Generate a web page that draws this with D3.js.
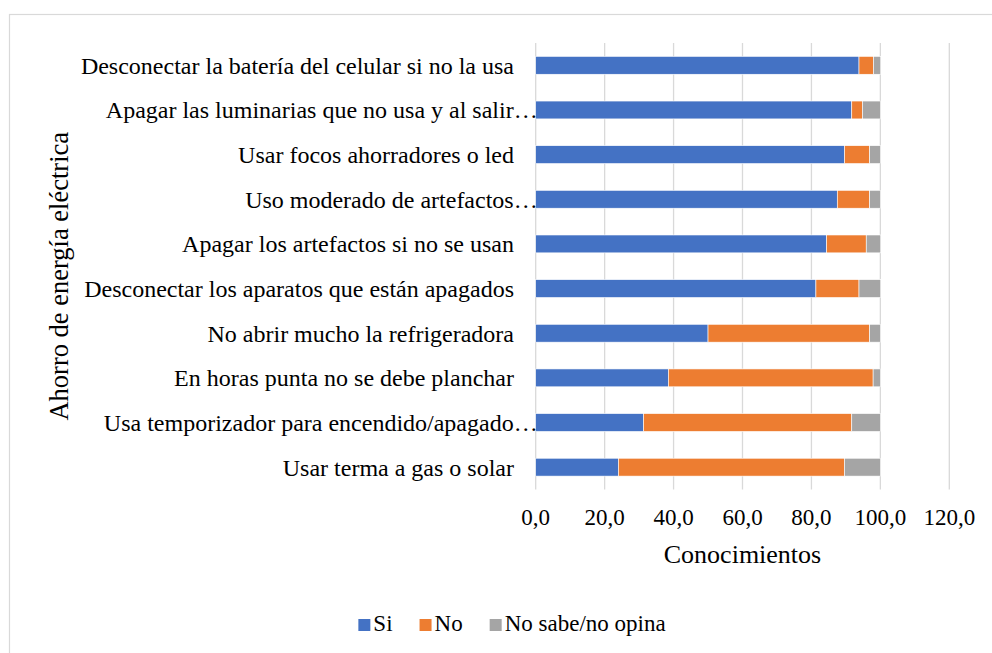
<!DOCTYPE html>
<html>
<head>
<meta charset="utf-8">
<script src="https://cdn.jsdelivr.net/npm/d3@7"></script>
<style>
  body { margin: 0; background: #fff; }
  text { font-family: "Liberation Serif", "Times New Roman", serif; fill: #000; }
</style>
</head>
<body>
<svg id="chart"></svg>
<script>
var width = 992, height = 653;

// categories, top to bottom
var categories = [
  "Desconectar la batería del celular si no la usa",
  "Apagar las luminarias que no usa y al salir…",
  "Usar focos ahorradores o led",
  "Uso moderado de artefactos…",
  "Apagar los artefactos si no se usan",
  "Desconectar los aparatos que están apagados",
  "No abrir mucho la refrigeradora",
  "En horas punta no se debe planchar",
  "Usa temporizador para encendido/apagado…",
  "Usar terma a gas o solar"
];
var siValues = [93.8, 91.7, 89.6, 87.5, 84.4, 81.3, 50.0, 38.5, 31.3, 24.0];
var noValues = [4.2, 3.1, 7.3, 9.4, 11.5, 12.5, 46.9, 59.4, 60.4, 65.6];
var nsValues = [2.1, 5.2, 3.1, 3.1, 4.2, 6.3, 3.1, 2.1, 8.3, 10.4];
var seriesNames = ["Si", "No", "No sabe/no opina"];
var colors = ["#4472C4", "#ED7D31", "#A5A5A5"];
var xTicks = [0, 20, 40, 60, 80, 100, 120];

var svg = d3.select("#chart").attr("width", width).attr("height", height);

// chart area border (runs off the right and bottom edge)
svg.append("rect")
   .attr("x", 9.5).attr("y", 14.5)
   .attr("width", 1100).attr("height", 1100)
   .attr("fill", "none").attr("stroke", "#d9d9d9").attr("stroke-width", 1.2);

var plotLeft = 535.7, plotRight = 949.3, plotTop = 43, plotBottom = 489.5;

var x = d3.scaleLinear().domain([0, 120]).range([plotLeft, plotRight]);
var y = d3.scaleBand().domain(categories).range([plotTop, plotBottom])
          .paddingInner(0.6).paddingOuter(0.3);

// gridlines
svg.append("g").selectAll("line")
   .data(xTicks)
   .enter().append("line")
   .attr("x1", d => x(d)).attr("x2", d => x(d))
   .attr("y1", plotTop).attr("y2", plotBottom)
   .attr("stroke", "#d9d9d9").attr("stroke-width", 1.3);

// stacked bars
var rows = categories.map(function(c, i){
    return {cat: c, Si: siValues[i], No: noValues[i], "No sabe/no opina": nsValues[i]};
});
var stack = d3.stack().keys(seriesNames)(rows);

svg.append("g").selectAll("g")
   .data(stack)
   .enter().append("g")
   .attr("fill", (d, i) => colors[i])
   .selectAll("rect")
   .data(d => d)
   .enter().append("rect")
   .attr("x", d => x(d[0]))
   .attr("width", d => x(d[1]) - x(d[0]))
   .attr("y", d => y(d.data.cat))
   .attr("height", y.bandwidth())
   .attr("stroke", "#fff").attr("stroke-width", 0.6);

// x tick labels
var fmt = d => d.toFixed(1).replace(".", ",");
svg.append("g").selectAll("text")
   .data(xTicks)
   .enter().append("text")
   .attr("x", d => x(d)).attr("y", 525)
   .attr("text-anchor", "middle")
   .style("font-size", "23px")
   .text(fmt);

// category labels
svg.append("g").selectAll("text")
   .data(categories)
   .enter().append("text")
   .attr("x", d => d.endsWith("…") ? plotLeft + 2 : 514)
   .attr("y", d => y(d) + y.bandwidth() / 2)
   .attr("dy", "0.35em")
   .attr("text-anchor", "end")
   .style("font-size", "24px")
   .text(d => d);

// axis titles
svg.append("text")
   .attr("x", (plotLeft + plotRight) / 2).attr("y", 563)
   .attr("text-anchor", "middle")
   .style("font-size", "26px")
   .text("Conocimientos");

svg.append("text")
   .attr("transform", "translate(68," + ((plotTop + plotBottom) / 2 + 10) + ") rotate(-90)")
   .attr("text-anchor", "middle")
   .style("font-size", "26.5px")
   .text("Ahorro de energía eléctrica");

// legend
var legend = svg.append("g");
var lx = 0;
seriesNames.forEach(function(name, i){
    var g = legend.append("g").attr("transform", "translate(" + lx + ",0)");
    g.append("rect").attr("x", 0).attr("y", -12).attr("width", 12).attr("height", 12)
     .attr("fill", colors[i]);
    var t = g.append("text").attr("x", 15).attr("y", 0)
     .style("font-size", "23px").text(name);
    lx += 15 + t.node().getComputedTextLength() + 27;
});
lx -= 27;
legend.attr("transform", "translate(" + (512 - lx / 2) + ",631)");
</script>
</body>
</html>
